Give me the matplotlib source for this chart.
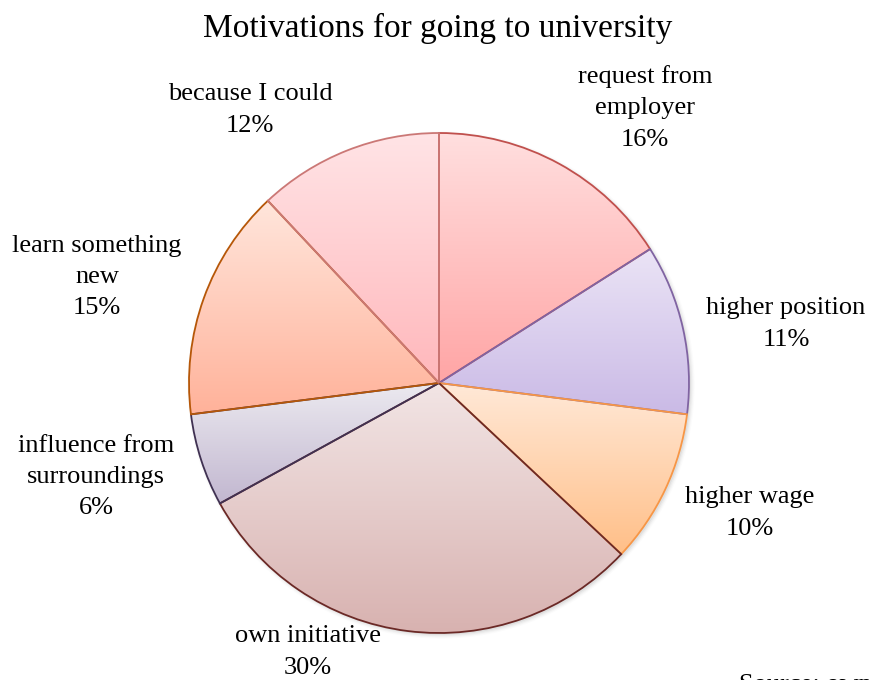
import numpy as np
import matplotlib
matplotlib.use("Agg")
import matplotlib.pyplot as plt
from matplotlib.colors import to_rgb
from matplotlib.patches import Circle

# Survey data
categories = ["request from\nemployer", "higher position", "higher wage", "own initiative",
              "influence from\nsurroundings", "learn something\nnew", "because I could"]
shares = [16, 11, 10, 30, 6, 15, 12]

# Slice styling: gradient (top, bottom) and outline colours
grad_top = ["#FFDFDF", "#EBE4F6", "#FFE9D8", "#F2E5E5", "#ECEAF0", "#FFE6DC", "#FFE4E6"]
grad_bottom = ["#FFA5A5", "#CABAE6", "#FFBF88", "#D8B2B0", "#C2B7D0", "#FFB29A", "#FFB7BB"]
edge_colors = ["#C0504D", "#8064A2", "#F79646", "#6B2926", "#403152", "#B65708", "#CB7876"]

# Label anchor points (pixel layout, y measured from top)
label_xy = [(645, 108), (786, 324), (750, 513), (308, 652), (96, 477), (97, 277), (250, 110)]

W, H = 869, 680
CX, CY, R = 439, 383, 250
serif = ["Liberation Serif", "DejaVu Serif"]

fig = plt.figure(figsize=(W / 100, H / 100), dpi=100)
ax = fig.add_axes([0, 0, 1, 1])

def fy(py):
    return H - py

# soft drop shadow behind the pie
for i, a in enumerate([0.10, 0.07, 0.05, 0.03]):
    ax.add_patch(Circle((CX + 2, fy(CY) - 2), R + i * 1.2, facecolor="#808080",
                        edgecolor="none", alpha=a, zorder=0.2))

wedges, _ = ax.pie(shares, startangle=90, counterclock=False, center=(CX, fy(CY)),
                   radius=R, frame=True,
                   wedgeprops=dict(linewidth=1.3, joinstyle="miter"))

for w, top, bot, ec in zip(wedges, grad_top, grad_bottom, edge_colors):
    w.set_facecolor("none")
    w.set_edgecolor(ec)
    w.set_zorder(3)
    ext = w.get_path().get_extents()
    t = np.linspace(0, 1, 256)[:, None, None]
    img = (1 - t) * np.array(to_rgb(top))[None, None, :] + t * np.array(to_rgb(bot))[None, None, :]
    img = np.repeat(img, 2, axis=1)
    im = ax.imshow(img, extent=(ext.x0, ext.x1, ext.y0, ext.y1), origin="upper",
                   interpolation="bilinear", zorder=2, aspect="auto")
    im.set_clip_path(w)

for lab, share, (px, py) in zip(categories, shares, label_xy):
    ax.text(px, fy(py), f"{lab}\n{share}%", ha="center", va="center",
            fontsize=19, family=serif, color="#000000", linespacing=1.53, zorder=5)

ax.text(438, fy(28), "Motivations for going to university", ha="center", va="center",
        fontsize=24, family=serif, color="#000000")
ax.text(739, fy(691), "Source: own survey", ha="left", va="baseline",
        fontsize=19, family=serif, color="#000000")

ax.set_xlim(0, W)
ax.set_ylim(0, H)
ax.set_aspect("auto")
ax.axis("off")

fig.savefig("out.png", dpi=100, facecolor="white")
